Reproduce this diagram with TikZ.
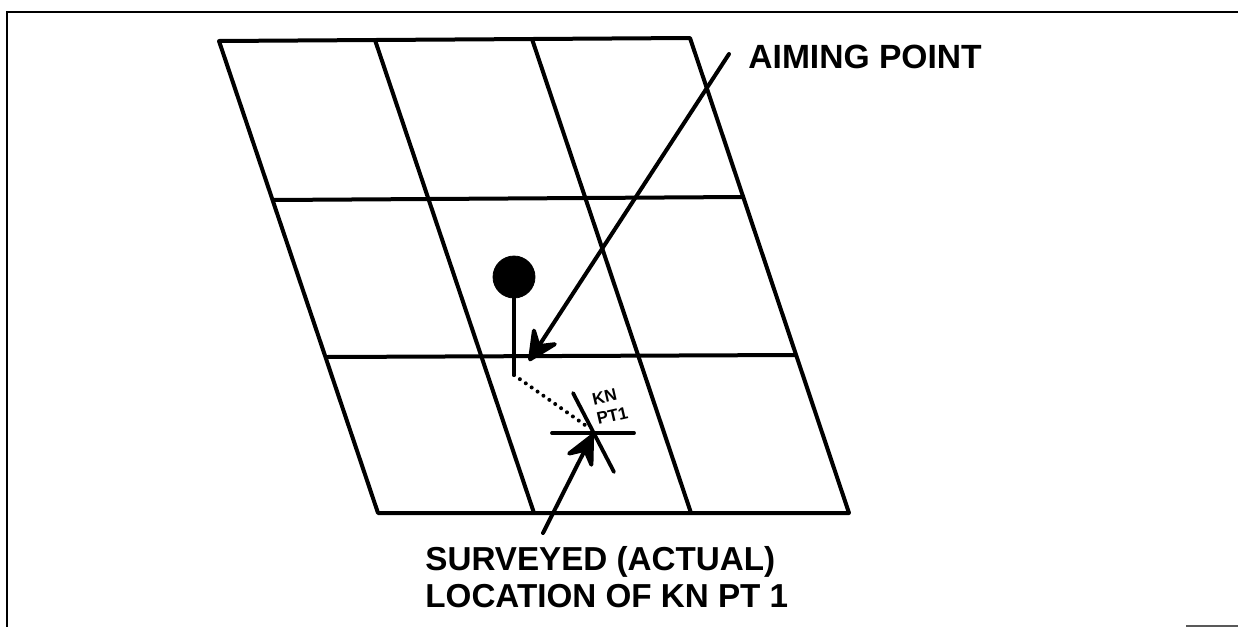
\documentclass[tikz,border=0pt]{standalone}
\usepackage{fontspec}
\setmainfont{Liberation Sans}
\usetikzlibrary{arrows.meta}

\begin{document}
\begin{tikzpicture}[
  x=0.5pt, y=-0.5pt,
  every node/.style={font=\bfseries\fontsize{16.6pt}{18.5pt}\selectfont},
  gridline/.style={line width=2pt, line join=round},
  frameline/.style={line width=1.4pt},
  pointer/.style={-{Stealth[length=19pt, width=18pt, inset=7.5pt, round]}, line width=2pt, line cap=round},
  crossline/.style={line width=1.9pt, line cap=round},
  callout/.style={align=left, inner sep=0pt, anchor=west},
  smalllabel/.style={font=\bfseries\fontsize{8.5pt}{10pt}\selectfont, align=left, inner sep=0pt, rotate=13}
]
\useasboundingbox (0,0) rectangle (1238,627);

% outer frame
\coordinate (frameA) at (7,627);
\coordinate (frameB) at (7,12);
\coordinate (frameC) at (1238,12);
\draw[frameline] (frameA) -- (frameB) -- (frameC);
\coordinate (cornerA) at (1186,626);
\coordinate (cornerB) at (1238,626);
\draw[line width=0.6pt, black!65] (cornerA) -- (cornerB);

% grid
\coordinate (tl) at (219,41);
\coordinate (tr) at (690,38);
\coordinate (br) at (849,513);
\coordinate (bl) at (378,513);
\draw[gridline] (tl) -- (tr) -- (br) -- (bl) -- cycle;
\coordinate (rowAl) at (273,200);
\coordinate (rowAr) at (742,197);
\coordinate (rowBl) at (327,357);
\coordinate (rowBr) at (795,355);
\draw[gridline] (rowAl) -- (rowAr);
\draw[gridline] (rowBl) -- (rowBr);
\coordinate (colAt) at (375,40);
\coordinate (colAb) at (534,513);
\coordinate (colBt) at (532,39);
\coordinate (colBb) at (691,513);
\draw[gridline] (colAt) -- (colAb);
\draw[gridline] (colBt) -- (colBb);

% aiming point marker
\node[circle, fill=black, draw=black, minimum size=21pt, inner sep=0pt] (ball) at (514,277) {};
\coordinate (stemend) at (514,375);
\draw[crossline] (ball.south) -- (stemend);

% known point
\coordinate (kn) at (592,433);
\coordinate (dotend) at (585,425);
\coordinate (knW) at (552,433);
\coordinate (knE) at (634,433);
\coordinate (knN) at (573,393);
\coordinate (knS) at (614,472);
\draw[crossline] (knW) -- (knE);
\draw[crossline] (knN) -- (knS);
\draw[line width=2pt, line cap=round, dash pattern=on 0pt off 3.6pt] (stemend) -- (dotend);
\node[smalllabel] (knlabel) at (610,406) {KN\\PT1};

% labels
\node[callout, font=\bfseries\fontsize{16.8pt}{18.5pt}\selectfont] (aimlabel) at (748,57) {AIMING POINT};
\node[callout] (surveylabel) at (425,577) {SURVEYED (ACTUAL)\\LOCATION OF KN PT 1};

\coordinate (aimstart) at (729,54);
\coordinate (aimtip) at (529,361);
\draw[pointer] (aimstart) -- (aimtip);
\coordinate (surveystart) at (543,533);
\coordinate (surveytip) at (593,434);
\draw[pointer] (surveystart) -- (surveytip);

\end{tikzpicture}
\end{document}
